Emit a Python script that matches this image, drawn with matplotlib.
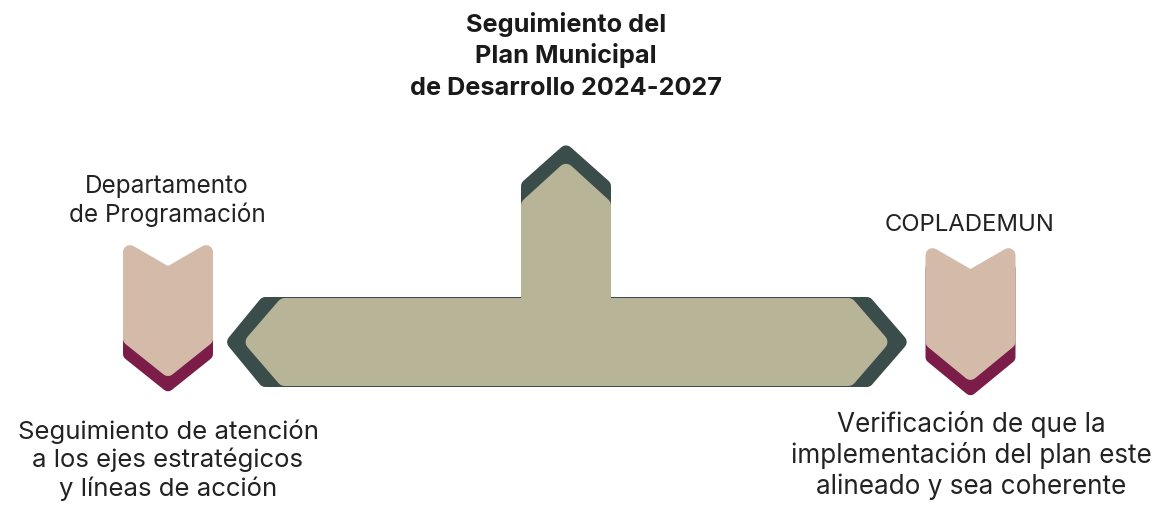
import numpy as np
import matplotlib
matplotlib.use("Agg")
import matplotlib.pyplot as plt
from matplotlib.patches import Polygon

# texts of the diagram
title_lines = ["Seguimiento del", "Plan Municipal", "de Desarrollo 2024-2027"]
left_head = ["Departamento", "de Programación"]
right_head = ["COPLADEMUN"]
left_foot = ["Seguimiento de atención", "a los ejes estratégicos", "y líneas de acción"]
right_foot = ["Verificación de que la", "implementación del plan este", "alineado y sea coherente"]

W, H, DPI = 1163, 505, 100
FONT = ["Inter", "DejaVu Sans"]

BEIGE = "#D4BBA9"
CRIMSON = "#7B1D48"
OLIVE = "#B8B497"
DARK = "#3A4D4B"


def inset(pts, d):
    """Offset a polygon inward by d pixels (miter joins)."""
    pts = np.asarray(pts, float)
    n = len(pts)
    area = 0.5 * np.sum(pts[:, 0] * np.roll(pts[:, 1], -1) - np.roll(pts[:, 0], -1) * pts[:, 1])
    sgn = 1.0 if area > 0 else -1.0
    out = []
    for i in range(n):
        p0, p1, p2 = pts[i - 1], pts[i], pts[(i + 1) % n]
        e1 = (p1 - p0) / np.linalg.norm(p1 - p0)
        e2 = (p2 - p1) / np.linalg.norm(p2 - p1)
        n1 = sgn * np.array([-e1[1], e1[0]])
        n2 = sgn * np.array([-e2[1], e2[0]])
        m = (n1 + n2) / (1.0 + np.dot(n1, n2))
        out.append(p1 + d * m)
    return np.array(out)


def rounded(ax, pts, color, r=6, z=1):
    lw = 2 * r * 72 / DPI
    ax.add_patch(Polygon(inset(pts, r), closed=True, fc=color, ec=color,
                         lw=lw, joinstyle="round", zorder=z))


def chevron(ax, cx, top, notch, side_bottom, point, half=45, shift=15):
    pts = [(cx - half, top), (cx, notch), (cx + half, top),
           (cx + half, side_bottom), (cx, point), (cx - half, side_bottom)]
    low = [(x, y + shift) for x, y in pts]
    rounded(ax, low, CRIMSON, r=6, z=1)
    rounded(ax, pts, BEIGE, r=7, z=2)


def lines(ax, x, base, step, texts, size, weight="normal", color="#222222"):
    for i, t in enumerate(texts):
        ax.text(x, base + i * step, t, ha="center", va="baseline", fontsize=size,
                fontweight=weight, color=color, family=FONT)


fig = plt.figure(figsize=(W / DPI, H / DPI), dpi=DPI)
fig.patch.set_facecolor("white")
ax = fig.add_axes([0, 0, 1, 1])
ax.set_xlim(0, W)
ax.set_ylim(H, 0)
ax.axis("off")

# central T shape: dark outline layer and olive face
dark_t = [(262, 297), (521, 297), (521, 183), (566, 143), (611, 183), (611, 297),
          (870, 297), (909, 342), (870, 387), (262, 387), (225, 342)]
olive_t = [(281, 298), (521, 298), (521, 202), (566, 161), (611, 202), (611, 298),
           (852, 298), (890, 342), (852, 386), (281, 386), (243, 342)]
rounded(ax, dark_t, DARK, r=7, z=1)
rounded(ax, olive_t, OLIVE, r=8, z=2)

# side chevrons
chevron(ax, 168, 240, 266, 342, 378)
chevron(ax, 970.5, 243, 269, 345, 382)

lines(ax, 566, 32, 31.5, title_lines, 18.2, weight="bold", color="#1a1a1a")
lines(ax, 167, 193, 29, left_head, 17.5)
lines(ax, 970, 231, 30, right_head, 17.2)
lines(ax, 168, 439, 28.5, left_foot, 18.5)
lines(ax, 971, 432, 31, right_foot, 18.8)

fig.savefig("out.png", dpi=DPI, facecolor="white")
